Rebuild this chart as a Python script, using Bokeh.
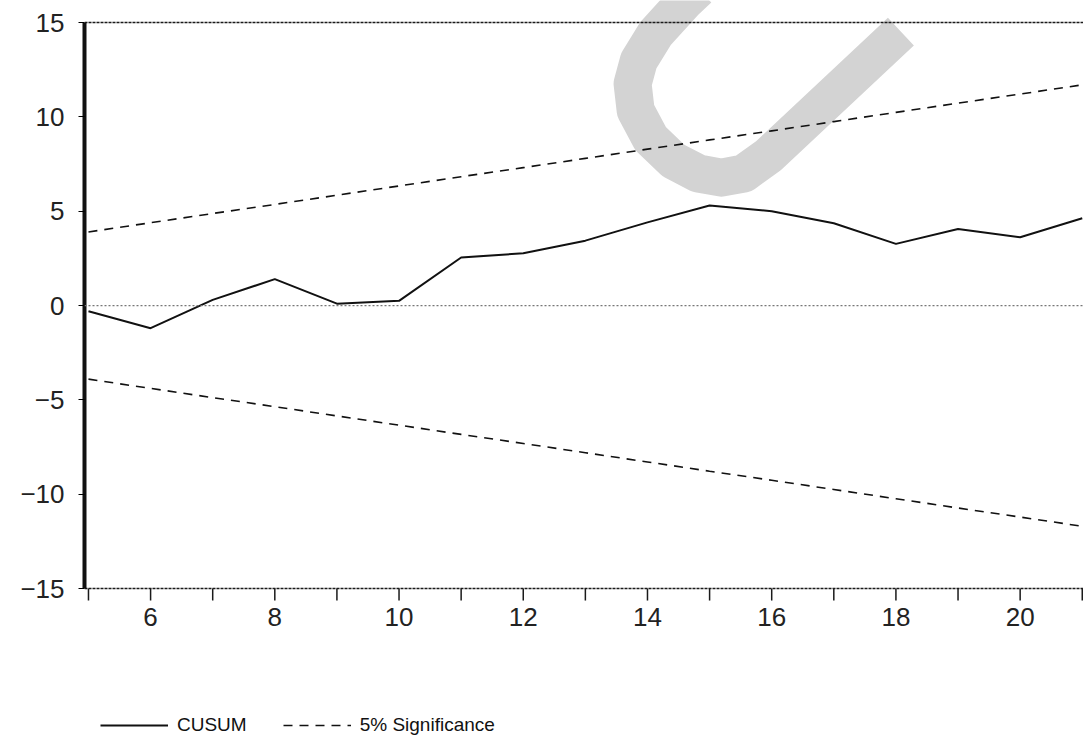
import math
from bokeh.plotting import figure
from bokeh.models import Span, Legend, LegendItem, FixedTicker, Range1d
from bokeh.core.properties import value
from bokeh.embed import file_html
from bokeh.resources import INLINE

# Recursive residual CUSUM test, observations 5..21
obs = [5, 6, 7, 8, 9, 10, 11, 12, 13, 14, 15, 16, 17, 18, 19, 20, 21]
cusum = [-0.3, -1.2, 0.3, 1.4, 0.1, 0.25, 2.55, 2.77, 3.44, 4.41, 5.3,
         5.0, 4.36, 3.27, 4.06, 3.62, 4.63]
upper_5pct = [3.90, 4.39, 4.88, 5.36, 5.85, 6.34, 6.83, 7.31, 7.80, 8.29,
              8.78, 9.26, 9.75, 10.24, 10.73, 11.21, 11.70]
lower_5pct = [-3.90, -4.39, -4.88, -5.36, -5.85, -6.34, -6.83, -7.31, -7.80,
              -8.29, -8.78, -9.26, -9.75, -10.24, -10.73, -11.21, -11.70]

y_ticks = [-15, -10, -5, 0, 5, 10, 15]
y_floor = -15
x_ticks = list(range(5, 22))
x_label_ticks = [6, 8, 10, 12, 14, 16, 18, 20]
x_label_text = ["6", "8", "10", "12", "14", "16", "18", "20"]

# light grey stamp stroke behind the series
stamp_x = [14.82, 14.61, 14.13, 13.86, 13.76, 13.81, 14.05, 14.42, 14.82,
           15.19, 15.55, 15.95, 18.08]
stamp_y = [16.80, 16.16, 14.42, 12.98, 11.76, 10.33, 8.85, 7.68, 7.00,
           6.78, 7.00, 7.95, 14.52]

x_lo, x_hi = 4.936, 21.02
p = figure(frame_width=999, frame_height=736,
           min_border_left=84, min_border_right=0, min_border_top=0,
           min_border_bottom=0,
           x_range=Range1d(x_lo, x_hi), y_range=Range1d(-22.843, 16.17),
           output_backend="svg", toolbar_location=None)
p.outline_line_color = None
p.xgrid.visible = False
p.ygrid.visible = False
p.xaxis.visible = False
p.background_fill_color = "white"
p.border_fill_color = "white"

p.line(stamp_x, stamp_y, line_width=38, line_color="#d3d3d3",
       line_join="round", line_cap="butt")

# frame top and zero reference
p.add_layout(Span(location=15, dimension="width", line_color="#1a1a1a",
                  line_width=1.5, line_dash="3 1"))
p.add_layout(Span(location=0, dimension="width", line_color="#777777",
                  line_width=1.2, line_dash="2 2"))

r_cusum = p.line(obs, cusum, line_color="#111111", line_width=2)
r_up = p.line(obs, upper_5pct, line_color="#111111", line_width=1.6,
              line_dash="9 7")
p.line(obs, lower_5pct, line_color="#111111", line_width=1.6, line_dash="9 7")

# horizontal axis at the floor of the scale
p.segment(x0=[x_lo], y0=[y_floor], x1=[x_hi], y1=[y_floor],
          line_color="#1a1a1a", line_width=1.5, line_dash="3 1")
p.ray(x=x_ticks, y=[y_floor] * len(x_ticks), length=12, length_units="screen",
      angle=-math.pi / 2, line_color="#1a1a1a", line_width=1.5)
p.text(x=x_label_ticks, y=[y_floor] * len(x_label_ticks), text=x_label_text,
       y_offset=19, text_align="center", text_baseline="top",
       text_font=value("Liberation Sans"), text_font_size="26px",
       text_color="#222222")

# vertical axis
yax = p.yaxis[0]
yax.ticker = FixedTicker(ticks=y_ticks)
yax.bounds = (-15, 15)
yax.axis_line_width = 4
yax.axis_line_color = "#111111"
yax.major_tick_out = 6
yax.major_tick_in = 0
yax.minor_tick_line_color = None
yax.major_label_standoff = 14
yax.major_label_text_font = "Liberation Sans"
yax.major_label_text_font_size = "26px"
yax.major_label_text_color = "#222222"

legend = Legend(items=[LegendItem(label="CUSUM", renderers=[r_cusum]),
                       LegendItem(label="5% Significance", renderers=[r_up])],
                location=(16, 0), orientation="horizontal",
                glyph_width=68, glyph_height=16, label_height=16,
                label_standoff=9, spacing=36, padding=0, margin=0,
                border_line_color=None, background_fill_alpha=0,
                label_text_font="Liberation Sans", label_text_font_size="19px",
                label_text_color="#111111")
p.add_layout(legend, "center")

open("out.html", "w").write(file_html(p, INLINE))
